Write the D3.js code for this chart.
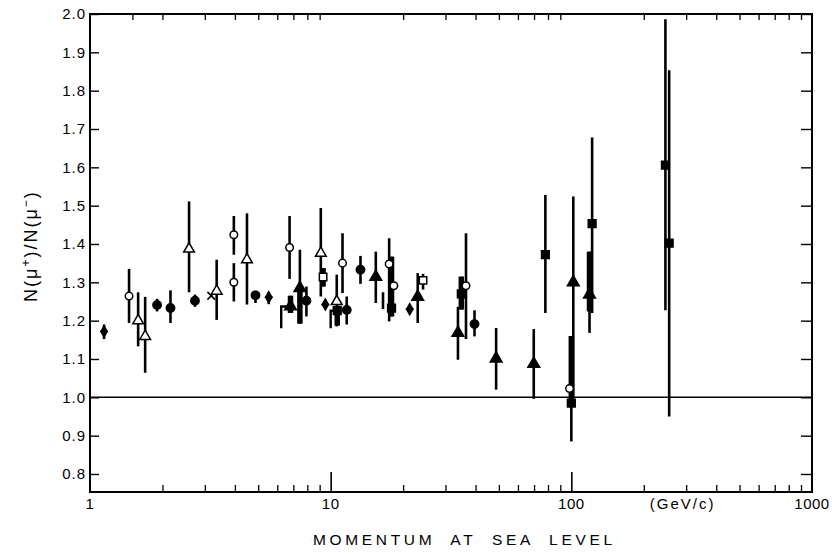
<!DOCTYPE html>
<html>
<head>
<meta charset="utf-8">
<script src="https://cdn.jsdelivr.net/npm/d3@7"></script>
<style>
  body { margin: 0; background: #fff; }
  text { font-family: "Liberation Sans", Arial, sans-serif; fill: #000; }
</style>
</head>
<body>
<div id="graph"></div>
<script>
// momentum (GeV/c), ratio N(mu+)/N(mu-), error bar ends, marker kind
const momentum = [1.144, 1.453, 1.585, 1.695, 1.90, 2.16, 2.58, 2.73, 3.19, 3.36,
    3.96, 3.96, 4.49, 4.87, 5.53, 6.75, 6.81, 7.45, 7.93, 9.10,
    9.30, 9.50, 10.6, 10.65, 11.2, 11.66, 13.3, 15.4, 16.5, 17.5,
    17.9, 18.3, 21.3, 23.0, 24.2, 33.8, 34.9, 36.5, 39.6, 48.7,
    69.8, 78, 98.3, 100, 101.9, 119, 122, 246, 255]
const ratio = [1.172, 1.264, 1.200, 1.159, 1.241, 1.233, 1.387, 1.252, 1.265, 1.277,
    1.424, 1.300, 1.359, 1.266, 1.261, 1.391, 1.237, 1.285, 1.252, 1.376,
    1.314, 1.242, 1.250, 1.226, 1.350, 1.228, 1.333, 1.314, 1.250, 1.348,
    1.233, 1.291, 1.230, 1.262, 1.305, 1.168, 1.270, 1.291, 1.191, 1.101,
    1.087, 1.372, 1.023, 0.985, 1.300, 1.268, 1.453, 1.606, 1.402]
const errLow = [1.152, 1.194, 1.133, 1.064, 1.224, 1.194, 1.274, 1.236, null, 1.202,
    1.372, 1.25, 1.242, 1.246, 1.243, 1.309, 1.22, 1.192, 1.211, 1.263,
    1.289, 1.23, 1.185, 1.187, 1.272, 1.19, 1.296, 1.246, 1.23, 1.198,
    1.211, null, 1.22, 1.194, 1.281, 1.098, 1.229, 1.152, 1.159, 1.02,
    0.996, 1.22, null, 0.885, 1.0, 1.168, 1.22, 1.227, 0.95]
const errHigh = [1.19, 1.335, 1.274, 1.262, 1.257, 1.279, 1.511, 1.268, null, 1.359,
    1.473, 1.35, 1.48, 1.278, 1.275, 1.473, 1.265, 1.385, 1.289, 1.494,
    1.337, 1.255, 1.32, 1.239, 1.428, 1.263, 1.369, 1.38, 1.274, 1.415,
    1.367, null, 1.239, 1.324, 1.322, 1.236, 1.315, 1.428, 1.227, 1.181,
    1.178, 1.528, null, 1.16, 1.524, 1.38, 1.678, 1.986, 1.853]
const marker = ["st", "oc", "ot", "ot", "fc", "fc", "ot", "fc", "x", "ot",
    "oc", "oc", "ot", "fc", "st", "oc", "ft", "ft", "fc", "ot",
    "os", "st", "ot", "fs", "oc", "fc", "fc", "ft", "none", "oc",
    "fs", "oc", "st", "ft", "os", "ft", "fs", "oc", "fc", "ft",
    "ft", "fs", "oc", "fs", "ft", "ft", "fs", "fs", "fs"]

// heavy (thick) portions of some bars
const heavyIndex = [16, 17, 20, 23, 30, 36, 43, 45]
const heavyLow = [1.22, 1.192, 1.289, 1.187, 1.211, 1.229, 0.977, 1.224]
const heavyHigh = [1.265, 1.285, 1.337, 1.239, 1.367, 1.315, 1.16, 1.38]

// bracket steps drawn in front of two points
const stepIndex = [16, 23]
const stepFrom = [6.23, 10.0]
const stepLow = [1.18, 1.18]

const yTicks = [0.8, 0.9, 1.0, 1.1, 1.2, 1.3, 1.4, 1.5, 1.6, 1.7, 1.8, 1.9, 2.0]
const xLabels = [[1, "1"], [10, "10"], [100, "100"], [290, "(GeV/c)"], [1000, "1000"]]

const margin = { top: 14, right: 20, bottom: 65, left: 90 },
    w = 832 - margin.left - margin.right,
    h = 557 - margin.top - margin.bottom

const svg = d3.select("#graph")
    .append("svg")
    .attr("width", 832)
    .attr("height", 557)
    .append("g")
    .attr("transform", `translate(${margin.left},${margin.top})`)

const x = d3.scaleLog().domain([1, 1000]).range([0, w])
const y = d3.scaleLinear().domain([0.753, 2.0]).range([h, 0])

// minor ticks 2..9 each decade
const minor = []
for (const d of [1, 10, 100]) for (let k = 2; k <= 9; k++) minor.push(d * k)

// bottom ticks (inward)
svg.append("g")
    .attr("transform", `translate(0,${h})`)
    .call(d3.axisBottom(x).tickValues(minor).tickSizeInner(-7).tickSizeOuter(0).tickFormat(""))
    .call(g => g.select(".domain").remove())
    .call(g => g.selectAll("line").attr("stroke-width", 1.3))
svg.append("g")
    .attr("transform", `translate(0,${h})`)
    .call(d3.axisBottom(x).tickValues([10, 100]).tickSizeInner(-20).tickSizeOuter(0).tickFormat(""))
    .call(g => g.select(".domain").remove())
    .call(g => g.selectAll("line").attr("stroke-width", 1.6))

// top ticks
svg.append("g")
    .call(d3.axisTop(x).tickValues([1.5].concat(minor)).tickSizeInner(-6).tickSizeOuter(0).tickFormat(""))
    .call(g => g.select(".domain").remove())
    .call(g => g.selectAll("line").attr("stroke-width", 1.3))

// left axis
svg.append("g")
    .call(d3.axisLeft(y).tickValues(yTicks).tickSizeInner(-9).tickSizeOuter(0).tickPadding(4).tickFormat(d3.format(".1f")))
    .call(g => g.select(".domain").remove())
    .call(g => g.selectAll("line").attr("stroke-width", 1.4))
    .call(g => g.selectAll("text").attr("font-size", 15).attr("letter-spacing", 1)
        .attr("font-family", "Liberation Sans, Arial, sans-serif"))

// right axis
svg.append("g")
    .attr("transform", `translate(${w},0)`)
    .call(d3.axisRight(y).tickValues(yTicks).tickSizeInner(-11).tickSizeOuter(0).tickFormat(""))
    .call(g => g.select(".domain").remove())
    .call(g => g.selectAll("line").attr("stroke-width", 1.4))

// frame
svg.append("rect")
    .attr("width", w).attr("height", h)
    .attr("fill", "none").attr("stroke", "#000").attr("stroke-width", 2)

// reference line at 1.0
svg.append("line")
    .attr("x1", 0).attr("x2", w)
    .attr("y1", y(1)).attr("y2", y(1))
    .attr("stroke", "#000").attr("stroke-width", 1.6)

// x labels
svg.append("g").selectAll("text")
    .data(xLabels)
    .enter()
    .append("text")
    .attr("x", d => x(d[0]))
    .attr("y", h + 17)
    .attr("text-anchor", "middle")
    .attr("font-size", 15)
    .attr("letter-spacing", d => d[1].startsWith("(") ? 2 : 0.5)
    .text(d => d[1])

// axis titles
svg.append("text")
    .attr("x", 223)
    .attr("y", h + 53)
    .attr("font-size", 15.5)
    .attr("textLength", 299)
    .attr("lengthAdjust", "spacing")
    .style("white-space", "pre")
    .text("MOMENTUM  AT  SEA  LEVEL")

const yt = svg.append("text")
    .attr("transform", `translate(${-53},${232}) rotate(-90)`)
    .attr("text-anchor", "middle")
    .attr("font-size", 18)
    .attr("letter-spacing", 2)
yt.append("tspan").text("N(μ")
yt.append("tspan").attr("baseline-shift", "super").attr("font-size", 12).text("+")
yt.append("tspan").text(")/N(μ")
yt.append("tspan").attr("baseline-shift", "super").attr("font-size", 12).text("−")
yt.append("tspan").text(")")

const pts = momentum.map((m, i) => ({ m, r: ratio[i], lo: errLow[i], hi: errHigh[i], k: marker[i] }))

// thin error bars
svg.append("g").selectAll("line")
    .data(pts.filter(d => d.lo !== null))
    .enter()
    .append("line")
    .attr("x1", d => x(d.m)).attr("x2", d => x(d.m))
    .attr("y1", d => y(d.lo)).attr("y2", d => y(d.hi))
    .attr("stroke", "#000").attr("stroke-width", 2.6)

// heavy bars
svg.append("g").selectAll("line")
    .data(heavyIndex)
    .enter()
    .append("line")
    .attr("x1", i => x(momentum[i])).attr("x2", i => x(momentum[i]))
    .attr("y1", (i, j) => y(heavyLow[j])).attr("y2", (i, j) => y(heavyHigh[j]))
    .attr("stroke", "#000").attr("stroke-width", 5.5)

// bracket steps
svg.append("g").selectAll("path")
    .data(stepIndex)
    .enter()
    .append("path")
    .attr("d", (i, j) => `M${x(stepFrom[j])},${y(stepLow[j])}V${y(ratio[i])}H${x(momentum[i])}`)
    .attr("fill", "none").attr("stroke", "#000").attr("stroke-width", 2.4)

// markers
const shape = {
    oc: [d3.symbolCircle, 45, false],
    fc: [d3.symbolCircle, 55, true],
    ot: [d3.symbolTriangle, 50, false],
    ft: [d3.symbolTriangle, 60, true],
    fs: [d3.symbolSquare, 60, true],
    os: [d3.symbolSquare, 55, false],
    st: [d3.symbolDiamond, 35, true],
    x: [d3.symbolX, 40, false]
}
const mk = svg.append("g").selectAll("g")
    .data(pts.filter(d => d.k !== "none"))
    .enter()
    .append("g")
    .attr("transform", d => `translate(${x(d.m)},${y(d.r)})`)
mk.append("path")
    .attr("d", d => d3.symbol(shape[d.k][0], shape[d.k][1])())
    .attr("fill", d => d.k === "x" ? "none" : (shape[d.k][2] ? "#000" : "#fff"))
    .attr("stroke", "#000")
    .attr("stroke-width", d => d.k === "x" ? 1.6 : 1.5)
mk.filter(d => d.k === "st")
    .append("line")
    .attr("x1", -4).attr("x2", 4)
    .attr("stroke", "#000").attr("stroke-width", 1.5)
</script>
</body>
</html>
